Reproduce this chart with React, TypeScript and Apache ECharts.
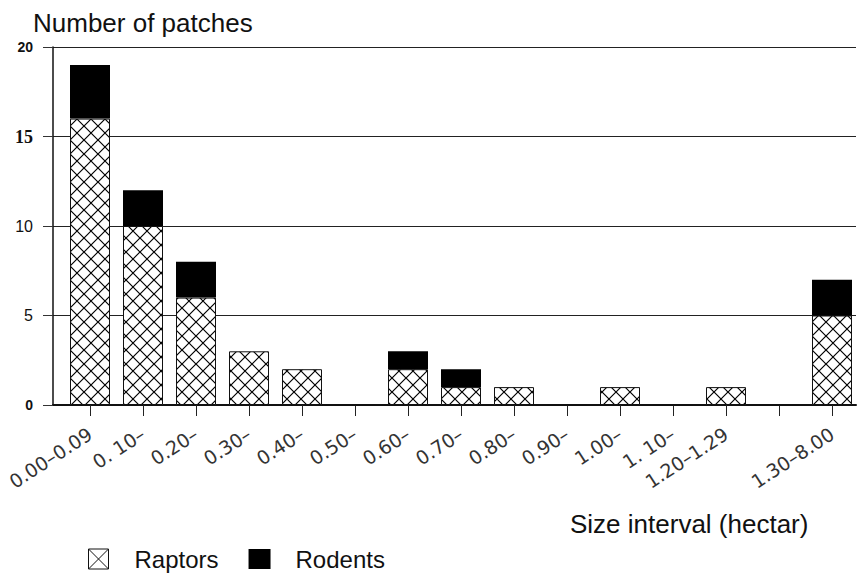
import React, { useEffect, useRef } from 'react';
import * as echarts from 'echarts';

const categories = ['0.00–0.09', '0. 10–', '0.20–', '0.30–', '0.40–', '0.50–', '0.60–', '0.70–', '0.80–', '0.90–', '1.00–', '1. 10–', '1.20–1.29', '', '1.30–8.00'];
const raptors = [16, 10, 6, 3, 2, 0, 2, 1, 1, 0, 1, 0, 1, 0, 5];
const rodents = [3, 2, 2, 0, 0, 0, 1, 1, 0, 0, 0, 0, 0, 0, 2];
const yMin = 0;
const yMax = 20;
const yStep = 5;
const titleText = 'Number of patches';
const xTitleText = 'Size interval (hectar)';
const seriesNames = ['Raptors', 'Rodents'];

export default function App() {
  const ref = useRef<HTMLDivElement>(null);
  useEffect(() => {
    const chart = echarts.init(ref.current!, null, { renderer: 'svg' });
    const tile = 14;
    const cv = document.createElement('canvas');
    cv.width = tile;
    cv.height = tile;
    const ctx = cv.getContext('2d')!;
    ctx.fillStyle = '#fff';
    ctx.fillRect(0, 0, tile, tile);
    ctx.strokeStyle = '#000';
    ctx.lineWidth = 1.2;
    ctx.beginPath();
    ctx.moveTo(-1, -1);
    ctx.lineTo(tile + 1, tile + 1);
    ctx.moveTo(tile + 1, -1);
    ctx.lineTo(-1, tile + 1);
    ctx.stroke();
    const hatch: any = { image: cv, repeat: 'repeat', imageWidth: tile, imageHeight: tile };

    const sans = 'Liberation Sans, Arial, sans-serif';
    chart.setOption({
      animation: false,
      backgroundColor: '#fff',
      title: [
        { text: titleText, left: 33, top: 10, padding: 0, textStyle: { fontFamily: sans, fontSize: 26, fontWeight: 'normal', color: '#111' } },
        { text: xTitleText, left: 570, top: 511, padding: 0, textStyle: { fontFamily: sans, fontSize: 26, fontWeight: 'normal', color: '#111' } },
      ],
      legend: {
        left: 88,
        top: 547,
        padding: 0,
        itemWidth: 22,
        itemHeight: 20,
        itemGap: 30,
        selectedMode: false,
        textStyle: { fontFamily: sans, fontSize: 24, color: '#111', padding: [0, 0, 0, 20] },
        data: [
          { name: seriesNames[0], icon: 'path://M0,0L20,0L20,20L0,20Z M0,0L20,20 M20,0L0,20', itemStyle: { color: '#fff', borderColor: '#111', borderWidth: 1 } },
          { name: seriesNames[1], icon: 'rect', itemStyle: { color: '#000', borderWidth: 0 } },
        ],
      },
      grid: [
        { left: 53, right: 4, top: 47, bottom: 171, containLabel: false },
        { left: 63.5, right: 1.5, top: 47, bottom: 171, containLabel: false },
      ],
      xAxis: [
        {
          gridIndex: 0, type: 'value', min: 0, max: 1,
          axisLine: { show: true, lineStyle: { color: '#111', width: 2 } },
          axisTick: { show: false }, axisLabel: { show: false }, splitLine: { show: false },
        },
        {
          gridIndex: 1, type: 'category', data: categories,
          axisLine: { show: false },
          axisTick: { show: true, alignWithLabel: true, length: 11, lineStyle: { color: '#222', width: 1 } },
          axisLabel: { interval: 0, rotate: 33, margin: 27, fontFamily: 'DejaVu Sans, sans-serif', fontWeight: 'normal', fontSize: 19, color: '#333' },
          splitLine: { show: false },
        },
      ],
      yAxis: [
        {
          gridIndex: 0, type: 'value', min: yMin, max: yMax, interval: yStep,
          axisLine: { show: true, lineStyle: { color: '#111', width: 1.5 } },
          axisTick: { show: true, length: 10, lineStyle: { color: '#333', width: 1 } },
          splitLine: { show: true, lineStyle: { color: '#222', width: 1 } },
          axisLabel: {
            margin: 20,
            formatter: (v: number) => (v === 20 ? `{b20|${v}}` : v === 15 ? `{b15|${v}}` : v === 0 ? `{b0|${v}}` : `{r|${v}}`),
            rich: {
              b20: { fontFamily: sans, fontWeight: 'bold', fontSize: 14, color: '#111' },
              b15: { fontFamily: 'Liberation Serif, serif', fontWeight: 'bold', fontSize: 18, color: '#111' },
              b0: { fontFamily: sans, fontWeight: 'bold', fontSize: 14, color: '#111' },
              r: { fontFamily: sans, fontSize: 16, color: '#111' },
            },
          },
        },
        { gridIndex: 1, type: 'value', min: yMin, max: yMax, interval: yStep, show: false, splitLine: { show: false } },
      ],
      series: [
        {
          name: seriesNames[0], type: 'bar', stack: 's', xAxisIndex: 1, yAxisIndex: 1, barWidth: 40,
          data: raptors,
          itemStyle: { color: hatch, borderColor: '#111', borderWidth: 1 },
        },
        {
          name: seriesNames[1], type: 'bar', stack: 's', xAxisIndex: 1, yAxisIndex: 1, barWidth: 40,
          data: rodents,
          itemStyle: { color: '#000' },
        },
      ],
    });
    return () => chart.dispose();
  }, []);
  return <div ref={ref} style={{ position: 'fixed', left: 0, top: 0, width: 860, height: 576 }} />;
}
